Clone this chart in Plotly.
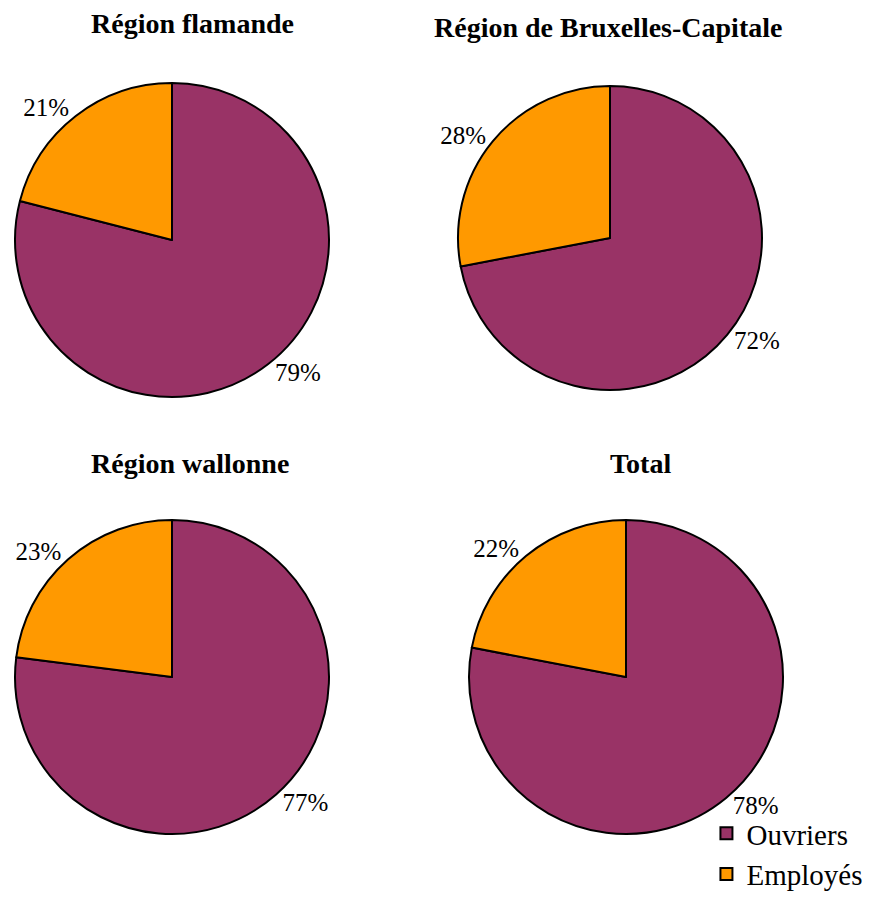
import plotly.graph_objects as go

categories = ["Ouvriers", "Employés"]
regions = ["Région flamande", "Région de Bruxelles-Capitale", "Région wallonne", "Total"]
ouvriers = [79, 72, 77, 78]
employes = [21, 28, 23, 22]

colors = ["#993366", "#FF9900"]
W, H = 870, 900
# pie boxes in pixels: (left, top, size)
boxes = [(15, 83, 314), (458, 86, 304), (15, 520, 314), (469, 520, 314)]
title_pos = [(192, 24), (608, 27), (190, 463), (640, 463)]
FONT = "Liberation Serif"

fig = go.Figure()
for i, name in enumerate(regions):
    l, t, s = boxes[i]
    fig.add_trace(go.Pie(
        labels=categories,
        values=[ouvriers[i], employes[i]],
        sort=False,
        direction="clockwise",
        rotation=0,
        marker=dict(colors=colors, line=dict(color="black", width=2)),
        textinfo="percent",
        texttemplate="%{percent:.0%}",
        textposition="outside",
        outsidetextfont=dict(family=FONT, size=25, color="black"),
        domain=dict(x=[l / W, (l + s) / W], y=[1 - (t + s) / H, 1 - t / H]),
        showlegend=(i == 0),
        hoverinfo="label+percent",
    ))
    tx, ty = title_pos[i]
    fig.add_annotation(x=tx / W, y=1 - ty / H, xref="paper", yref="paper",
                       text="<b>" + name + "</b>", showarrow=False,
                       font=dict(family=FONT, size=28, color="black"),
                       xanchor="center", yanchor="middle")

fig.update_layout(
    width=W, height=H,
    margin=dict(l=0, r=0, t=0, b=0),
    paper_bgcolor="white",
    plot_bgcolor="white",
    font=dict(family=FONT, color="black"),
    legend=dict(x=0.812, y=0.0, xanchor="left", yanchor="bottom",
                font=dict(family=FONT, size=29, color="black"),
                itemsizing="constant", tracegroupgap=0, itemwidth=30,
                bgcolor="rgba(0,0,0,0)"),
)

fig.write_html("out.html", config={"displayModeBar": False},
               post_script="document.body.style.margin='0';document.body.style.overflow='hidden';")
